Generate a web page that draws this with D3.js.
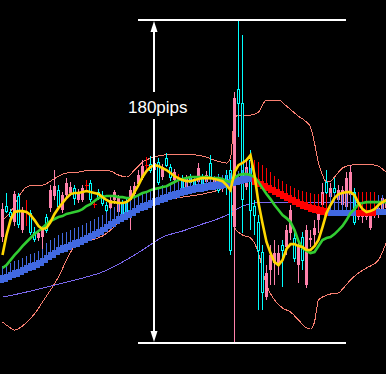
<!DOCTYPE html>
<html>
<head>
<meta charset="utf-8">
<script src="https://cdn.jsdelivr.net/npm/d3@7"></script>
<style>
  html, body { margin: 0; padding: 0; background: #000; }
  svg { display: block; }
</style>
</head>
<body>
<div id="chart"></div>
<script>
// prices in pips above the bottom line of the 180 pip range
const barOpen = [
  74.6, 73.5, 70.7, 83.0, 66.3, 73.5, 73.0, 61.8, 57.4, 61.3,
  62.9, 62.9, 85.2, 87.4, 75.8, 82.4, 89.1, 86.9, 80.8, 84.1,
  86.3, 88.0, 79.7, 77.4, 80.8, 78.0, 74.1, 79.7, 84.1, 80.8,
  71.3, 72.4, 85.2, 87.4, 93.6, 98.6, 99.1, 96.4, 100.3, 89.7,
  98.0, 99.1, 92.5, 95.2, 91.9, 83.6, 91.9, 89.7, 88.0, 97.5,
  86.9, 93.6, 92.5, 90.8, 85.2, 90.8, 88.0, 51.8, 136.5, 133.7,
  79.7, 98.0, 74.1, 71.3, 51.8, 28.4, 39.0, 49.0, 50.1, 50.1,
  51.8, 62.9, 74.1, 47.3, 54.6, 46.2, 62.9, 58.5, 64.1, 72.4,
  84.1, 84.1, 86.3, 84.1, 85.2, 85.2, 91.9, 95.2, 67.4, 73.0,
  74.1, 73.0, 72.4, 74.1, 75.2, 80.8, 79.7
];
const barHigh = [
  78.0, 83.6, 74.6, 84.7, 83.6, 75.8, 79.7, 74.1, 64.6, 62.9,
  65.2, 71.9, 88.0, 96.4, 88.0, 84.1, 91.9, 89.7, 88.0, 85.8,
  88.0, 90.8, 90.8, 79.7, 85.8, 84.7, 78.5, 81.3, 85.2, 82.4,
  79.7, 80.8, 87.4, 89.7, 96.4, 101.9, 103.6, 104.2, 103.0, 103.0,
  99.7, 105.8, 99.7, 96.9, 94.1, 93.6, 93.6, 94.1, 92.5, 100.3,
  94.1, 95.8, 104.7, 93.0, 94.1, 93.0, 96.4, 101.9, 139.8, 180.0,
  171.6, 101.9, 107.5, 79.7, 71.3, 54.6, 43.4, 54.6, 57.4, 54.6,
  57.4, 65.7, 76.9, 61.8, 57.4, 61.8, 65.7, 62.9, 68.5, 75.2,
  89.1, 96.4, 89.1, 91.9, 88.0, 87.4, 95.2, 99.1, 86.3, 75.8,
  76.9, 75.2, 75.2, 75.8, 78.0, 82.4, 81.9
];
const barLow = [
  56.3, 72.4, 69.6, 65.2, 64.1, 61.3, 65.2, 60.2, 56.3, 56.8,
  52.4, 61.3, 73.0, 79.7, 74.6, 72.4, 80.8, 81.9, 76.9, 78.0,
  78.5, 84.1, 78.5, 75.2, 79.7, 76.3, 73.0, 73.5, 77.4, 70.7,
  69.6, 70.7, 62.9, 81.3, 86.9, 90.8, 95.2, 94.7, 94.7, 88.0,
  90.8, 98.0, 90.2, 89.1, 88.6, 81.9, 85.2, 88.0, 86.3, 88.0,
  85.2, 88.0, 90.8, 85.2, 83.6, 84.1, 82.4, 49.0, 0.0, 114.8,
  61.3, 85.2, 62.9, 60.2, 18.4, 18.4, 24.0, 32.3, 32.3, 37.9,
  31.2, 49.0, 57.4, 45.1, 33.4, 40.7, 30.6, 53.5, 54.6, 61.3,
  74.1, 82.4, 79.7, 82.4, 74.1, 71.3, 74.1, 80.8, 65.7, 68.5,
  66.8, 68.5, 62.9, 69.6, 69.6, 71.3, 73.0
];
const barClose = [
  59.0, 75.8, 73.0, 67.4, 81.9, 62.9, 73.0, 72.4, 61.8, 58.5,
  59.0, 70.2, 75.2, 81.9, 85.2, 74.1, 82.4, 83.6, 86.3, 79.7,
  79.7, 88.0, 89.1, 77.4, 84.1, 82.4, 76.9, 75.2, 79.7, 73.0,
  78.0, 79.1, 79.7, 83.0, 88.6, 91.9, 99.1, 99.7, 96.4, 100.8,
  92.5, 103.0, 98.0, 90.8, 91.9, 91.9, 86.9, 92.5, 90.8, 89.7,
  92.5, 89.7, 100.3, 87.4, 91.9, 86.3, 93.6, 96.4, 64.6, 141.0,
  133.7, 86.9, 101.9, 75.8, 67.4, 50.7, 25.6, 40.7, 44.6, 43.4,
  54.6, 53.5, 61.3, 58.5, 43.4, 59.0, 32.3, 57.4, 60.2, 68.5,
  76.9, 89.7, 81.3, 86.3, 79.7, 76.9, 75.8, 82.4, 83.6, 70.2,
  70.2, 70.2, 64.1, 71.3, 71.3, 73.0, 75.2
];

// smoothed heiken ashi
const haOpen = [
  34.0, 34.5, 35.6, 36.7, 37.3, 38.4, 39.5, 40.6, 41.2, 42.3,
  43.4, 45.1, 46.8, 47.9, 49.6, 50.7, 51.2, 52.3, 53.4, 54.0,
  55.1, 56.2, 57.3, 58.5, 59.6, 60.7, 62.4, 64.0, 65.1, 66.8,
  67.9, 69.0, 70.2, 71.3, 72.9, 74.1, 74.6, 75.7, 76.8, 77.4,
  78.5, 79.1, 80.2, 80.7, 81.3, 82.4, 83.0, 83.5, 84.1, 84.6,
  84.6, 85.2, 85.7, 85.7, 86.3, 86.3, 86.9, 87.4, 88.0, 88.5,
  89.1, 89.7, 90.2, 91.9, 90.8, 89.7, 88.6, 87.5, 86.4, 85.3,
  84.1, 83.0, 81.9, 80.8, 79.7, 78.6, 78.0, 76.9, 76.3, 75.8,
  75.2, 74.7, 71.3, 71.3, 71.3, 71.3, 71.3, 71.3, 71.3, 73.5,
  73.5, 73.5, 73.5, 73.5, 71.9, 71.9, 71.9
];
const haClose = [
  37.4, 37.9, 39.0, 40.1, 40.7, 41.8, 42.9, 44.0, 44.6, 45.7,
  46.8, 48.5, 50.2, 51.3, 53.0, 54.1, 54.6, 55.7, 56.8, 57.4,
  58.5, 59.6, 60.7, 61.9, 63.0, 64.1, 65.8, 67.4, 68.5, 70.2,
  71.3, 72.4, 73.6, 74.7, 76.3, 77.5, 78.0, 79.1, 80.2, 80.8,
  81.9, 82.5, 83.6, 84.1, 84.7, 85.8, 86.4, 86.9, 87.5, 88.0,
  88.0, 88.6, 89.1, 89.1, 89.7, 89.7, 90.3, 90.8, 91.4, 91.9,
  92.5, 93.1, 93.6, 88.5, 87.4, 86.3, 85.2, 84.1, 83.0, 81.9,
  80.7, 79.6, 78.5, 77.4, 76.3, 75.2, 74.6, 73.5, 72.9, 72.4,
  71.8, 71.3, 73.5, 73.5, 73.5, 73.5, 73.5, 73.5, 73.5, 71.3,
  71.3, 71.3, 71.3, 71.3, 74.1, 74.1, 74.1
];
const haHigh = [
  43.0, 43.5, 44.6, 45.7, 46.3, 47.4, 48.5, 49.6, 50.2, 51.3,
  52.4, 55.7, 57.4, 58.5, 60.2, 61.3, 61.8, 62.9, 64.0, 64.6,
  65.7, 66.8, 67.9, 69.1, 70.2, 71.3, 73.0, 74.6, 75.7, 77.4,
  78.5, 78.5, 79.7, 80.8, 82.4, 83.6, 84.1, 85.2, 86.3, 86.9,
  88.0, 87.5, 88.6, 89.1, 89.7, 90.8, 91.4, 91.9, 92.5, 93.0,
  93.0, 92.5, 93.0, 93.0, 93.6, 93.6, 94.2, 94.7, 95.3, 95.8,
  96.4, 97.0, 97.5, 101.9, 100.8, 99.1, 97.5, 95.2, 93.0, 91.4,
  90.2, 88.6, 87.4, 86.3, 85.2, 84.7, 84.1, 83.6, 83.0, 83.0,
  83.0, 83.0, 83.6, 83.6, 83.6, 83.6, 83.6, 83.6, 83.6, 84.1,
  84.1, 84.1, 84.1, 84.1, 82.4, 82.4, 82.4
];

// moving averages, one value per bar
const fastMA = [
  49.0, 60.2, 68.5, 73.0, 73.5, 73.5, 73.0, 71.3, 68.5, 65.2,
  63.5, 64.1, 67.4, 71.9, 75.2, 78.0, 80.8, 83.0, 83.6, 83.6,
  84.1, 84.7, 84.1, 83.6, 83.0, 81.3, 79.7, 78.5, 78.5, 78.0,
  78.0, 78.5, 80.2, 84.1, 88.0, 92.5, 95.8, 98.0, 99.1, 98.6,
  97.5, 96.4, 94.7, 93.0, 91.9, 90.8, 90.2, 90.2, 90.8, 91.4,
  91.9, 91.9, 91.9, 91.4, 90.8, 90.2, 88.0, 85.2, 95.2, 99.1,
  100.3, 101.9, 104.7, 93.6, 78.0, 66.8, 56.3, 50.1, 45.1, 43.4,
  46.2, 52.4, 55.1, 55.1, 54.0, 53.5, 51.8, 51.8, 54.0, 57.4,
  64.6, 72.4, 76.9, 80.8, 83.0, 83.6, 84.1, 84.1, 82.4, 78.0,
  74.6, 73.0, 73.5, 74.6, 76.9, 78.5, 79.7
];
const midMA = [
  41.8, 43.4, 46.2, 49.0, 51.3, 54.0, 56.3, 58.5, 60.7, 62.4,
  64.1, 66.3, 68.0, 69.1, 70.2, 70.7, 71.9, 72.4, 73.0, 73.5,
  74.6, 76.3, 77.4, 79.1, 80.8, 81.3, 81.9, 81.9, 81.9, 81.3,
  81.3, 80.8, 80.8, 81.3, 82.4, 83.6, 84.1, 85.2, 85.8, 86.3,
  86.9, 87.4, 88.6, 89.7, 90.8, 91.4, 91.9, 92.5, 92.5, 92.5,
  92.5, 92.5, 91.9, 91.9, 91.9, 91.4, 90.2, 89.7, 91.9, 93.6,
  94.1, 94.1, 93.6, 92.5, 89.7, 86.3, 83.0, 80.2, 76.9, 74.1,
  71.3, 69.6, 67.4, 62.9, 56.8, 52.9, 51.3, 50.1, 50.7, 54.0,
  57.4, 58.5, 59.0, 60.7, 62.9, 65.2, 68.5, 72.4, 74.6, 77.4,
  78.0, 78.5, 78.5, 78.5, 78.5, 78.5, 78.5
];

// read at selected bars: [bar, pips]
const slowMA = [
  [0, 25.6], [5, 27.9], [10, 30.6], [15, 33.4], [20, 36.2], [25, 39.6],
  [30, 45.1], [35, 51.8], [40, 59.0], [45, 62.4], [50, 66.3], [55, 70.2],
  [57, 72.4], [60, 76.3], [63, 78.0], [66, 78.5], [96, 78.5]
];
const bandUpper = [
  [0, 68.5], [2, 73.0], [3, 76.9], [4, 81.3], [5, 84.7], [6, 86.9], [8, 88.0],
  [10, 88.0], [12, 90.2], [14, 93.0], [16, 94.7], [19, 95.2], [22, 96.4],
  [25, 96.4], [27, 95.8], [29, 93.6], [31, 92.5], [33, 96.4], [35, 100.8],
  [37, 103.0], [40, 104.7], [45, 105.3], [50, 104.2], [53, 101.9], [56, 100.3],
  [57, 103.0], [58, 125.3], [59, 127.0], [62, 127.0], [64, 128.7], [65, 132.6],
  [66, 135.4], [69, 135.4], [71, 132.0], [74, 126.4], [76, 123.1], [77, 120.3],
  [78, 111.4], [79, 100.3], [80, 93.6], [81, 89.7], [82, 90.2], [83, 92.5],
  [85, 97.5], [87, 99.1], [91, 99.7], [94, 98.6], [95, 96.9], [96, 95.2]
];
const bandLower = [
  [0, 11.7], [2, 8.4], [3, 7.2], [5, 9.5], [8, 16.2], [10, 22.8], [12, 29.5],
  [14, 36.8], [16, 46.2], [18, 54.0], [20, 56.8], [23, 57.9], [25, 59.6],
  [27, 62.9], [29, 67.4], [31, 71.9], [33, 74.1], [37, 76.9], [41, 79.7],
  [45, 81.3], [50, 83.0], [54, 85.2], [56, 86.9], [57, 84.1], [58, 64.1],
  [60, 60.2], [62, 58.5], [63, 55.7], [64, 50.1], [66, 32.3], [68, 24.0],
  [70, 19.5], [72, 17.3], [74, 12.8], [76, 8.4], [77, 7.8], [78, 11.7],
  [79, 24.0], [80, 25.6], [82, 27.3], [84, 27.9], [85, 30.1], [87, 35.1],
  [89, 39.0], [91, 41.8], [94, 46.2], [95, 50.7], [96, 56.3]
];

// 180 pip range annotation (bars)
const rangeTop = 180, rangeBottom = 0;
const rangeFrom = 34, rangeTo = 86, arrowBar = 38;
const rangeLabel = '180pips';

const W = 386, H = 374;
const svg = d3.select('#chart').append('svg')
    .attr('width', W)
    .attr('height', H)
    .style('background', '#000');

const x = d3.scaleLinear().domain([0, 96]).range([2.5, 386.5]);
const y = d3.scaleLinear().domain([0, 180]).range([343, 20]);

const CYAN = '#00ffff', PINK = '#ff82ac', DOJI = '#ff0000';
const HA_UP = '#4169e1', HA_DN = '#ff0000';

// bollinger style bands
const bandLine = d3.line().x(d => x(d[0])).y(d => y(d[1])).curve(d3.curveMonotoneX);
svg.append('g').selectAll('path').data([bandUpper, bandLower]).join('path')
    .attr('d', bandLine)
    .attr('fill', 'none')
    .attr('stroke', '#fa8072')
    .attr('stroke-width', 1)
    .attr('shape-rendering', 'crispEdges');

// slow MA
svg.append('path')
    .attr('d', bandLine(slowMA))
    .attr('fill', 'none')
    .attr('stroke', '#7b68ee')
    .attr('stroke-width', 1)
    .attr('shape-rendering', 'crispEdges');

// candles
const bars = barOpen.map((o, i) => ({ i, o, h: barHigh[i], l: barLow[i], c: barClose[i] }));
const candles = svg.append('g').attr('shape-rendering', 'crispEdges');
const colorOf = d => d.c > d.o ? CYAN : (d.c < d.o ? PINK : DOJI);

candles.selectAll('line.wick').data(bars).join('line')
    .attr('class', 'wick')
    .attr('x1', d => x(d.i)).attr('x2', d => x(d.i))
    .attr('y1', d => y(d.h)).attr('y2', d => y(d.l))
    .attr('stroke', colorOf);

// bull: hollow cyan box
candles.selectAll('rect.up').data(bars.filter(d => d.c > d.o)).join('rect')
    .attr('class', 'up')
    .attr('x', d => x(d.i) - 1)
    .attr('width', 2)
    .attr('y', d => y(d.c))
    .attr('height', d => Math.max(1, y(d.o) - y(d.c)))
    .attr('fill', '#000')
    .attr('stroke', CYAN);

// bear: filled pink
candles.selectAll('rect.dn').data(bars.filter(d => d.c < d.o)).join('rect')
    .attr('class', 'dn')
    .attr('x', d => x(d.i) - 1.5)
    .attr('width', 3)
    .attr('y', d => y(d.o))
    .attr('height', d => Math.max(1, y(d.c) - y(d.o)))
    .attr('fill', PINK);

// doji tick
candles.selectAll('line.doji').data(bars.filter(d => d.c === d.o)).join('line')
    .attr('class', 'doji')
    .attr('x1', d => x(d.i) - 2).attr('x2', d => x(d.i) + 2)
    .attr('y1', d => y(d.o)).attr('y2', d => y(d.o))
    .attr('stroke', DOJI);

// heiken ashi ribbon
const ha = haOpen.map((o, i) => ({ i, o, c: haClose[i], h: haHigh[i] }));
const haG = svg.append('g').attr('shape-rendering', 'crispEdges');
const haColor = d => d.c >= d.o ? HA_UP : HA_DN;

haG.selectAll('line').data(ha).join('line')
    .attr('x1', d => x(d.i)).attr('x2', d => x(d.i))
    .attr('y1', d => y(d.h))
    .attr('y2', d => y(Math.min(d.o, d.c)))
    .attr('stroke', haColor);

haG.selectAll('rect').data(ha).join('rect')
    .attr('x', d => x(d.i) - 2.5)
    .attr('width', 4)
    .attr('y', d => y(Math.max(d.o, d.c)) - 1)
    .attr('height', d => Math.max(4, Math.abs(y(d.o) - y(d.c)) + 2))
    .attr('fill', haColor);

// MAs
const maLine = d3.line().x((d, i) => x(i)).y(d => y(d));
svg.append('path')
    .attr('d', maLine(midMA))
    .attr('fill', 'none')
    .attr('stroke', '#32cd32')
    .attr('stroke-width', 2.6);

svg.append('path')
    .attr('d', maLine(fastMA))
    .attr('fill', 'none')
    .attr('stroke', '#ffd700')
    .attr('stroke-width', 2.6);

// range annotation
const ann = svg.append('g');
ann.selectAll('line.hl').data([rangeTop, rangeBottom]).join('line')
    .attr('class', 'hl')
    .attr('x1', x(rangeFrom) - 0.5).attr('x2', x(rangeTo) - 0.5)
    .attr('y1', d => y(d)).attr('y2', d => y(d))
    .attr('stroke', '#fff')
    .attr('stroke-width', 2);

const ax = x(arrowBar) - 0.5;
ann.append('text')
    .attr('x', ax - 26)
    .attr('y', 113)
    .attr('fill', '#fff')
    .style('font-family', '"Liberation Sans", Arial, sans-serif')
    .style('font-size', '17px')
    .text(rangeLabel);

const yt = y(rangeTop), yb = y(rangeBottom);
ann.append('line')
    .attr('x1', ax).attr('x2', ax)
    .attr('y1', yt + 10).attr('y2', 92)
    .attr('stroke', '#fff').attr('stroke-width', 2);
ann.append('line')
    .attr('x1', ax).attr('x2', ax)
    .attr('y1', 119).attr('y2', yb - 10)
    .attr('stroke', '#fff').attr('stroke-width', 2);
ann.append('path')
    .attr('d', `M${ax},${yt + 1}L${ax - 3.5},${yt + 12}L${ax + 3.5},${yt + 12}Z`)
    .attr('fill', '#fff');
ann.append('path')
    .attr('d', `M${ax},${yb - 1}L${ax - 3.5},${yb - 12}L${ax + 3.5},${yb - 12}Z`)
    .attr('fill', '#fff');
</script>
</body>
</html>
